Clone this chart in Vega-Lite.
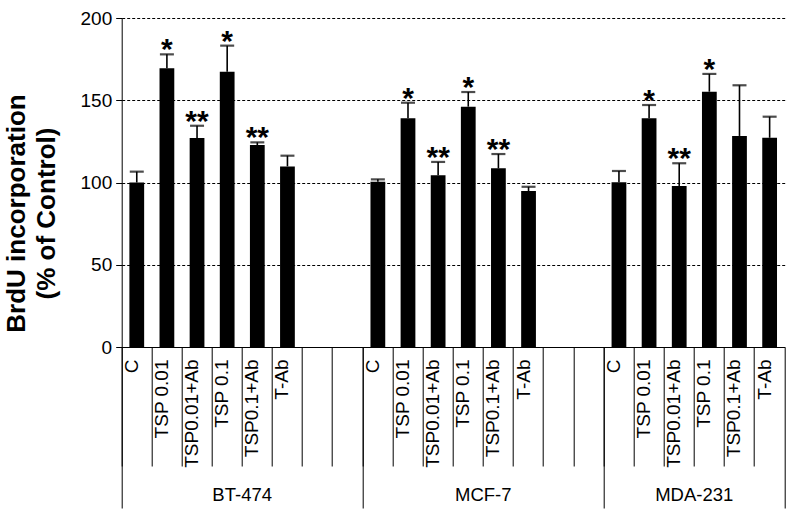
{
  "$schema": "https://vega.github.io/schema/vega-lite/v6.json",
  "autosize": "none",
  "padding": {"left": 121.7, "top": 18, "right": 15.3, "bottom": 170},
  "width": 663,
  "height": 329,
  "background": "white",
  "config": {
    "view": {"stroke": null},
    "font": "Liberation Sans",
    "axis": {"labelFont": "Liberation Sans", "titleFont": "Liberation Sans", "labelColor": "black", "titleColor": "black"}
  },
  "data": {
    "values": [
      {"k": "BT-474|C", "v": 100.0, "e": 106.6, "s": ""},
      {"k": "BT-474|TSP 0.01", "v": 169.4, "e": 177.9, "s": "*"},
      {"k": "BT-474|TSP0.01+Ab", "v": 127.0, "e": 134.5, "s": "**"},
      {"k": "BT-474|TSP 0.1", "v": 167.4, "e": 183.2, "s": "*"},
      {"k": "BT-474|TSP0.1+Ab", "v": 122.8, "e": 124.4, "s": "**"},
      {"k": "BT-474|T-Ab", "v": 109.8, "e": 116.3, "s": ""},
      {"k": "BT-474|_1", "v": 0, "e": null, "s": ""},
      {"k": "BT-474|_2", "v": 0, "e": null, "s": ""},
      {"k": "MCF-7|C", "v": 100.5, "e": 101.9, "s": ""},
      {"k": "MCF-7|TSP 0.01", "v": 139.0, "e": 148.5, "s": "*"},
      {"k": "MCF-7|TSP0.01+Ab", "v": 104.4, "e": 112.5, "s": "**"},
      {"k": "MCF-7|TSP 0.1", "v": 146.1, "e": 155.0, "s": "*"},
      {"k": "MCF-7|TSP0.1+Ab", "v": 108.6, "e": 117.3, "s": "**"},
      {"k": "MCF-7|T-Ab", "v": 94.8, "e": 97.4, "s": ""},
      {"k": "MCF-7|_1", "v": 0, "e": null, "s": ""},
      {"k": "MCF-7|_2", "v": 0, "e": null, "s": ""},
      {"k": "MDA-231|C", "v": 100.1, "e": 107.0, "s": ""},
      {"k": "MDA-231|TSP 0.01", "v": 139.0, "e": 147.1, "s": "*"},
      {"k": "MDA-231|TSP0.01+Ab", "v": 97.9, "e": 111.7, "s": "**"},
      {"k": "MDA-231|TSP 0.1", "v": 155.2, "e": 166.0, "s": "*"},
      {"k": "MDA-231|TSP0.1+Ab", "v": 128.3, "e": 159.1, "s": ""},
      {"k": "MDA-231|T-Ab", "v": 127.2, "e": 140.0, "s": ""}
    ]
  },
  "resolve": {"axis": {"x": "independent"}},
  "layer": [
    {
      "mark": {"type": "bar", "color": "black", "width": {"band": 0.49}},
      "encoding": {
        "x": {
          "field": "k", "type": "nominal", "sort": null,
          "scale": {"paddingInner": 0, "paddingOuter": 0, "domain": ["BT-474|C","BT-474|TSP 0.01","BT-474|TSP0.01+Ab","BT-474|TSP 0.1","BT-474|TSP0.1+Ab","BT-474|T-Ab","BT-474|_1","BT-474|_2","MCF-7|C","MCF-7|TSP 0.01","MCF-7|TSP0.01+Ab","MCF-7|TSP 0.1","MCF-7|TSP0.1+Ab","MCF-7|T-Ab","MCF-7|_1","MCF-7|_2","MDA-231|C","MDA-231|TSP 0.01","MDA-231|TSP0.01+Ab","MDA-231|TSP 0.1","MDA-231|TSP0.1+Ab","MDA-231|T-Ab"]},
          "axis": {
            "orient": "bottom", "title": null, "bandPosition": 0,
            "tickSize": 119, "tickColor": "black", "tickWidth": 1,
            "domainColor": "black", "domainWidth": 1,
            "labelAngle": 270, "labelAlign": "right", "labelBaseline": "middle",
            "labelPadding": -107, "labelOffset": -5, "labelFontSize": 19,
            "labelOverlap": false, "labelBound": false,
            "labelExpr": "indexof(datum.value, '|_') >= 0 ? '' : split(datum.value, '|')[1]"
          }
        },
        "y": {
          "field": "v", "type": "quantitative",
          "scale": {"domain": [0, 200], "nice": false},
          "axis": {
            "values": [0, 50, 100, 150, 200],
            "grid": true, "gridColor": "black", "gridDash": [3, 2], "gridWidth": 1, "gridOpacity": 1,
            "domainColor": "black", "tickColor": "black", "tickSize": 6,
            "labelFontSize": 19, "labelPadding": 4,
            "title": ["BrdU incorporation", "(% of Control)"],
            "titleFontSize": 26, "titleFontWeight": "bold", "titleLineHeight": 30,
            "titleX": -92, "titleY": 195, "titleAngle": 270, "titleAlign": "center", "titleBaseline": "bottom"
          }
        }
      }
    },
    {
      "transform": [{"filter": "datum.e != null"}],
      "mark": {"type": "rule", "color": "black", "strokeWidth": 1.6},
      "encoding": {
        "x": {
          "field": "k", "type": "nominal", "sort": null,
          "axis": {
            "orient": "bottom", "title": null, "bandPosition": 0,
            "values": ["BT-474|C", "MCF-7|C", "MDA-231|C"],
            "tickSize": 161, "tickColor": "black", "tickWidth": 1,
            "labels": false, "domain": false, "grid": false
          }
        },
        "y": {"field": "v", "type": "quantitative"},
        "y2": {"field": "e"}
      }
    },
    {
      "transform": [{"filter": "datum.e != null"}],
      "mark": {"type": "tick", "color": "black", "thickness": 2.2, "size": 14, "orient": "horizontal"},
      "encoding": {
        "x": {
          "field": "k", "type": "nominal", "sort": null,
          "axis": {
            "orient": "bottom", "title": null, "bandPosition": 1,
            "values": ["MDA-231|T-Ab"],
            "tickSize": 161, "tickColor": "black", "tickWidth": 1,
            "labels": false, "domain": false, "grid": false
          }
        },
        "y": {"field": "e", "type": "quantitative"}
      }
    },
    {
      "transform": [{"filter": "datum.e != null"}],
      "mark": {"type": "text", "color": "black", "fontSize": 30, "fontWeight": "bold", "baseline": "alphabetic", "dy": 5},
      "encoding": {
        "x": {
          "field": "k", "type": "nominal", "sort": null,
          "axis": {
            "orient": "bottom", "title": null,
            "values": ["BT-474|TSP 0.1", "MCF-7|TSP 0.1", "MDA-231|TSP0.01+Ab"],
            "ticks": false, "domain": false, "grid": false,
            "labelAngle": 0, "labelAlign": "center", "labelBaseline": "top",
            "labelPadding": 138, "labelOffset": 15, "labelFontSize": 18.5,
            "labelOverlap": false, "labelBound": false,
            "labelExpr": "split(datum.value, '|')[0]"
          }
        },
        "y": {"field": "e", "type": "quantitative"},
        "text": {"field": "s"}
      }
    }
  ]
}
